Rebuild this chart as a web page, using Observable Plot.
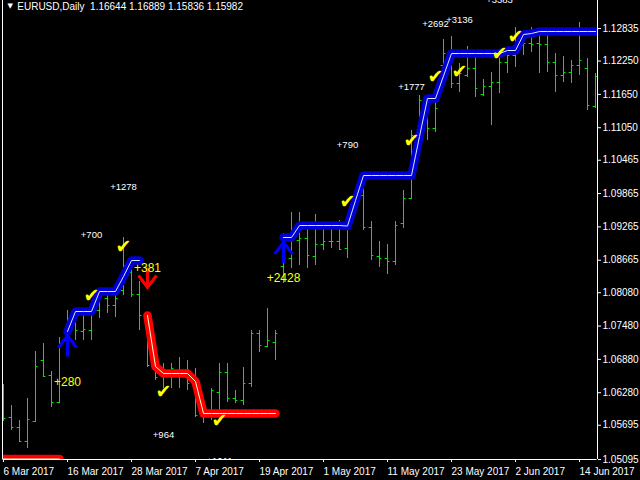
<!DOCTYPE html>
<html><head><meta charset="utf-8">
<script src="https://cdn.jsdelivr.net/npm/d3@7"></script>
<script src="https://cdn.jsdelivr.net/npm/@observablehq/plot@0.6"></script>
<style>
html,body{margin:0;padding:0;background:#000;}
#chart{width:640px;height:480px;overflow:hidden;}
</style></head><body><div id="chart"></div>
<script>
// ---- data ----
const symbol = "EURUSD,Daily";
const headerValues = ["1.16644", "1.16889", "1.15836", "1.15982"];

const xTickBars = [0, 8, 16, 24, 32, 40, 48, 56, 64, 72];
const xTickLabels = ["6 Mar 2017", "16 Mar 2017", "28 Mar 2017", "7 Apr 2017", "19 Apr 2017",
  "1 May 2017", "11 May 2017", "23 May 2017", "2 Jun 2017", "14 Jun 2017"];
const yTicks = [1.12835, 1.12250, 1.11650, 1.11050, 1.10465, 1.09865, 1.09265, 1.08665,
  1.08080, 1.07480, 1.06880, 1.06280, 1.05695, 1.05095];

const open = [1.0614,1.05834,1.05654,1.05402,1.05762,1.0686,1.0659,1.06104,1.0722,1.0758,
  1.07382,1.074,1.0776,1.07976,1.0785,1.0812,1.08444,1.08048,1.0767,1.06752,
  1.0659,1.06644,1.0668,1.0668,1.06464,1.0587,1.05852,1.06284,1.06644,1.06176,
  1.0614,1.06446,1.07346,1.07112,1.07184,1.08552,1.08696,1.0902,1.09056,1.08732,
  1.08948,1.09002,1.09002,1.08876,1.09596,1.0983,1.09254,1.08732,1.08696,1.08642,
  1.09326,1.09776,1.10856,1.1154,1.11036,1.1217,1.12386,1.11846,1.1199,1.12116,
  1.11648,1.11792,1.11864,1.12224,1.1235,1.1253,1.12566,1.12566,1.12548,1.12224,
  1.1199,1.12044,1.1217,1.12116,1.11432];
const high = [1.06428,1.0605,1.0578,1.06176,1.07022,1.07166,1.06662,1.07274,1.0776,1.07706,
  1.0767,1.07814,1.08084,1.0803,1.0803,1.09074,1.0866,1.08282,1.07706,1.06806,
  1.06806,1.06806,1.06914,1.0686,1.06716,1.0596,1.06356,1.06806,1.06806,1.0632,
  1.06734,1.074,1.074,1.07796,1.074,1.09146,1.09524,1.09524,1.09236,1.09488,
  1.09254,1.0929,1.0938,1.09344,1.09866,1.1001,1.09362,1.09002,1.08948,1.09362,
  1.0992,1.11,1.1163,1.11576,1.11504,1.12638,1.12692,1.12206,1.12512,1.12314,
  1.11918,1.12044,1.1244,1.1244,1.12854,1.12746,1.12854,1.12746,1.1271,1.12386,
  1.12332,1.1226,1.12944,1.12296,1.12026];
const low = [1.05762,1.056,1.05384,1.05276,1.05744,1.06554,1.06014,1.06086,1.07184,1.0722,
  1.0722,1.0722,1.07616,1.07706,1.07634,1.0803,1.07994,1.074,1.06734,1.065,
  1.06356,1.06356,1.06356,1.0632,1.05834,1.05726,1.0578,1.05906,1.06104,1.06086,
  1.0605,1.06374,1.07004,1.07094,1.0686,1.08246,1.08516,1.0857,1.08516,1.0857,
  1.0884,1.08876,1.0884,1.08696,1.09506,1.092,1.0866,1.08534,1.08408,1.0857,
  1.09236,1.09758,1.10784,1.1082,1.10964,1.11774,1.11756,1.11684,1.11954,1.11594,
  1.11612,1.1109,1.11666,1.12026,1.12134,1.1235,1.12404,1.12026,1.12044,1.11684,
  1.11864,1.11846,1.1199,1.1136,1.11396];
const close = [1.05816,1.05654,1.05402,1.05798,1.06752,1.06572,1.06104,1.0713,1.07616,1.074,
  1.07418,1.0776,1.07994,1.0785,1.07976,1.0857,1.08048,1.0767,1.0677,1.06554,
  1.0668,1.06716,1.0668,1.06446,1.0587,1.05852,1.0632,1.06644,1.06176,1.0614,
  1.06446,1.07346,1.0713,1.0722,1.07346,1.08696,1.0902,1.09056,1.0875,1.08948,
  1.09002,1.09002,1.08858,1.0929,1.0974,1.09254,1.0875,1.08696,1.08642,1.0929,
  1.09776,1.1091,1.1154,1.11036,1.11396,1.12386,1.11846,1.12026,1.12116,1.11756,
  1.11792,1.11864,1.12224,1.1235,1.1253,1.12566,1.12548,1.12548,1.12224,1.1199,
  1.12044,1.1217,1.1226,1.1145,1.11972];

const N = null;
// trend line (blue = up, red = down), per bar
const upLine = [N,N,N,N,N,N,N,N,1.07382,1.07742,
  1.07742,1.07742,1.08102,1.08102,1.08102,1.08372,1.0866,1.0866,N,N,
  N,N,N,N,N,N,N,N,N,N,
  N,N,N,N,N,1.09074,1.09074,1.0929,1.0929,1.0929,
  1.0929,1.0929,1.0929,1.0928,1.0974,1.1019,1.1019,1.1019,1.1019,1.1019,
  1.1019,1.1019,1.10892,1.11576,1.11576,1.11981,1.12386,1.12386,1.12386,1.12386,
  1.12386,1.12386,1.12386,1.1244,1.1244,1.12728,1.12746,1.12782,1.12782,1.12782,
  1.12782,1.12782,1.12782,1.12782,1.12782];
const downLine = [1.05087,1.05087,1.05087,1.05087,1.05087,1.05087,1.05087,1.05087,N,N,
  N,N,N,N,N,N,N,N,1.0767,1.06752,
  1.06626,1.06626,1.06626,1.06626,1.06482,1.05906,1.05906,1.05906,1.05906,1.05906,
  1.05906,1.05906,1.05906,1.05906,1.05906,N,N,N,N,N,
  N,N,N,N,N,N,N,N,N,N,
  N,N,N,N,N,N,N,N,N,N,
  N,N,N,N,N,N,N,N,N,N,
  N,N,N,N,N];

const upArrowBars = [8, 35];
const upArrowPrices = [1.0731, 1.08989];
const downArrowBars = [18];
const downArrowPrices = [1.08174];

const checkBars = [11, 15, 20, 27, 43, 51, 54, 57, 62, 64];
const checkPrices = [1.0803, 1.08899, 1.06289, 1.0578, 1.09709, 1.1082, 1.11959, 1.12049, 1.12381, 1.1268];

const yellowLabels = ["+280", "+381", "+2428"];
const yellowBars = [8, 18, 35];
const yellowPrices = [1.06464, 1.08516, 1.08336];

const whiteLabels = ["+700", "+1278", "+964", "+1011", "+790", "+1777", "+2692", "+3136", "+3383"];
const whiteBars = [11, 15, 20, 27, 43, 51, 54, 57, 62];
const whitePrices = [1.09128, 1.09992, 1.05528, 1.0506, 1.10748, 1.11792, 1.12926, 1.12998, 1.13358];

// ---- build ----
const bars = open.map((o, i) => ({i, o, h: high[i], l: low[i], c: close[i]}));
const upPts = upLine.map((v, i) => ({i, v}));
const dnPts = downLine.map((v, i) => ({i, v}));
const upArrows = upArrowBars.map((b, k) => ({i: b, v: upArrowPrices[k]}));
const dnArrows = downArrowBars.map((b, k) => ({i: b, v: downArrowPrices[k]}));
const checks = checkBars.map((b, k) => ({i: b, v: checkPrices[k]}));
const yl = yellowLabels.map((t, k) => ({t, i: yellowBars[k], v: yellowPrices[k]}));
const wl = whiteLabels.map((t, k) => ({t, i: whiteBars[k], v: whitePrices[k]}));

const xDomain = [0, 74.25];
const yDomain = [1.05078, 1.1334];
const green = "#00e800";
const blue = "#0000d4";
const font = "'Liberation Sans', Arial, sans-serif";

const arrowShape = {
  draw(ctx, l) {
    ctx.moveTo(0, 0); ctx.lineTo(0, -l);
    ctx.moveTo(-9, 12 - l); ctx.lineTo(0, -l); ctx.lineTo(9, 12 - l);
  }
};

const header = "\u00a0" + symbol + "\u00a0\u00a0" + headerValues.join("\u00a0");

const chart = Plot.plot({
  width: 640, height: 480,
  marginLeft: 3, marginRight: 43, marginTop: 0, marginBottom: 21,
  x: {domain: xDomain},
  y: {domain: yDomain},
  style: {background: "#000", color: "#fff", fontFamily: font, fontSize: "10px", overflow: "hidden"},
  marks: [
    // OHLC bars
    Plot.ruleX(bars, {x: "i", y1: "l", y2: "h", stroke: green, strokeWidth: 1, clip: true}),
    Plot.ruleY(bars, {y: "o", x1: d => d.i - 0.3, x2: "i", stroke: green, strokeWidth: 1, clip: true}),
    Plot.ruleY(bars, {y: "c", x1: "i", x2: d => d.i + 0.3, stroke: green, strokeWidth: 1, clip: true}),
    // trend lines
    Plot.line(dnPts, {x: "i", y: "v", stroke: "#ff0000", strokeWidth: 8.5, clip: true}),
    Plot.line(dnPts, {x: "i", y: "v", stroke: "#ffffc8", strokeWidth: 1, clip: true}),
    Plot.line(upPts, {x: "i", y: "v", stroke: blue, strokeWidth: 8.5, clip: true}),
    Plot.line(upPts, {x: "i", y: "v", stroke: "#d8e8ff", strokeWidth: 1, clip: true}),
    // arrows
    Plot.vector(upArrows, {x: "i", y: "v", length: 21, rotate: 0, anchor: "end", shape: arrowShape, stroke: "#0000ff", strokeWidth: 3, strokeLinecap: "butt", strokeLinejoin: "miter"}),
    Plot.vector(dnArrows, {x: "i", y: "v", length: 20, rotate: 180, anchor: "end", shape: arrowShape, stroke: "#ff0000", strokeWidth: 3, strokeLinecap: "butt", strokeLinejoin: "miter"}),
    // check marks
    Plot.text(checks, {x: "i", y: "v", text: () => "\u2714", fill: "#ffff00", fontSize: 19, dx: 0, fontFamily: "DejaVu Sans", clip: true}),
    // labels
    Plot.text(yl, {x: "i", y: "v", text: "t", fill: "#ffff00", fontSize: 12, clip: true}),
    Plot.text(wl, {x: "i", y: "v", text: "t", fill: "#ffffff", fontSize: 9.5, clip: true}),
    // frame lines
    Plot.ruleX([xDomain[0]], {stroke: "#fff", dx: -1}),
    Plot.ruleX([xDomain[1]], {stroke: "#fff"}),
    Plot.ruleY([yDomain[0]], {stroke: "#fff", x1: xDomain[0], x2: xDomain[1], dx: -0.5}),
    // axes
    Plot.axisX(xTickBars, {anchor: "bottom", tickSize: 3, tickPadding: 5, textAnchor: "start",
      tickFormat: d => xTickLabels[xTickBars.indexOf(d)], stroke: "#fff", fill: "#fff", fontSize: 10, label: null}),
    Plot.axisY(yTicks.slice(0, -1), {anchor: "right", tickSize: 3, tickPadding: 2,
      tickFormat: d => d.toFixed(5), stroke: "#fff", fill: "#fff", fontSize: 10, label: null}),
    Plot.axisY(yTicks.slice(-1), {anchor: "right", tickSize: 3, tickPadding: 2, dy: 1,
      tickFormat: d => d.toFixed(5), stroke: "#fff", fill: "#fff", fontSize: 10, label: null}),
    // header
    Plot.text(["\u25bc"], {frameAnchor: "top-left", dx: 4, dy: 3, fill: "#fff", fontSize: 7, textAnchor: "start", lineAnchor: "top", fontFamily: "DejaVu Sans"}),
    Plot.text([header], {frameAnchor: "top-left", dx: 11, dy: 2, fill: "#fff", fontSize: 10, textAnchor: "start", lineAnchor: "top"})
  ]
});
document.getElementById("chart").appendChild(chart);
</script></body></html>
